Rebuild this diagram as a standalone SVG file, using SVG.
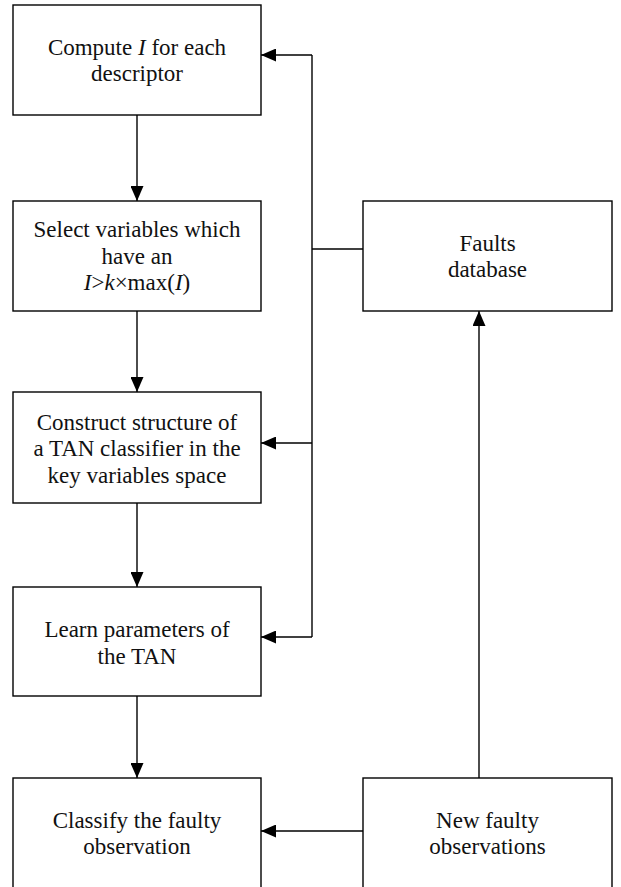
<svg xmlns="http://www.w3.org/2000/svg" width="621" height="887" viewBox="0 0 621 887">
<style>
.box{fill:#fff;stroke:#000;stroke-width:1.4}
.t{font-family:"Liberation Serif","Times New Roman",serif;font-size:23px;fill:#111;text-anchor:middle}
.c{fill:none;stroke:#000;stroke-width:1.4}
.i{font-style:italic}
</style>
<defs>
<marker id="ah" viewBox="0 0 15 13" refX="15" refY="6.5" markerWidth="15" markerHeight="13" markerUnits="userSpaceOnUse" orient="auto">
<path d="M0,0 L15,6.5 L0,13 Z" fill="#000"/>
</marker>
</defs>
<rect width="621" height="887" fill="#fff"/>
<g id="connectors">
<line class="c" x1="137" y1="115" x2="137" y2="201" marker-end="url(#ah)"/>
<line class="c" x1="137" y1="311" x2="137" y2="392" marker-end="url(#ah)"/>
<line class="c" x1="137" y1="503" x2="137" y2="587" marker-end="url(#ah)"/>
<line class="c" x1="137" y1="696" x2="137" y2="778" marker-end="url(#ah)"/>
<polyline class="c" points="312,55 312,637"/>
<line class="c" x1="312" y1="55" x2="261" y2="55" marker-end="url(#ah)"/>
<line class="c" x1="312" y1="443" x2="261" y2="443" marker-end="url(#ah)"/>
<line class="c" x1="312" y1="637" x2="261" y2="637" marker-end="url(#ah)"/>
<line class="c" x1="363" y1="249" x2="312" y2="249"/>
<line class="c" x1="479" y1="778" x2="479" y2="311" marker-end="url(#ah)"/>
<line class="c" x1="363" y1="831" x2="261" y2="831" marker-end="url(#ah)"/>
</g>
<g id="n1">
<rect class="box" x="13" y="5" width="248" height="110"/>
<text class="t" x="137" y="54.5">Compute <tspan class="i">I</tspan> for each</text>
<text class="t" x="137" y="81">descriptor</text>
</g>
<g id="n2">
<rect class="box" x="13" y="201" width="248" height="110"/>
<text class="t" x="137" y="237">Select variables which</text>
<text class="t" x="137" y="263.5">have an</text>
<text class="t" x="137" y="290"><tspan class="i">I</tspan>&gt;<tspan class="i">k</tspan>×max(<tspan class="i">I</tspan>)</text>
</g>
<g id="n3">
<rect class="box" x="13" y="392" width="248" height="111"/>
<text class="t" x="137" y="429.5">Construct structure of</text>
<text class="t" x="137" y="456">a TAN classifier in the</text>
<text class="t" x="137" y="482.5">key variables space</text>
</g>
<g id="n4">
<rect class="box" x="13" y="587" width="248" height="109"/>
<text class="t" x="137" y="637">Learn parameters of</text>
<text class="t" x="137" y="663.5">the TAN</text>
</g>
<g id="n5">
<rect class="box" x="13" y="778" width="248" height="115"/>
<text class="t" x="137" y="828">Classify the faulty</text>
<text class="t" x="137" y="854">observation</text>
</g>
<g id="n6">
<rect class="box" x="363" y="201" width="249" height="110"/>
<text class="t" x="487.5" y="251">Faults</text>
<text class="t" x="487.5" y="277">database</text>
</g>
<g id="n7">
<rect class="box" x="363" y="778" width="249" height="115"/>
<text class="t" x="487.5" y="828">New faulty</text>
<text class="t" x="487.5" y="854">observations</text>
</g>
</svg>
